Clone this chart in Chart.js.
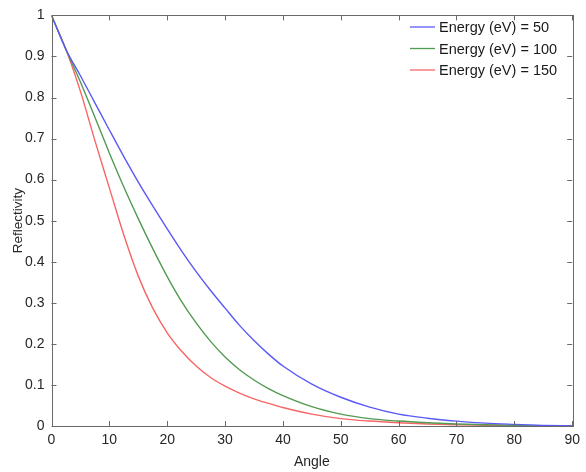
<!DOCTYPE html>
<html>
<head>
<meta charset="utf-8">
<script src="https://cdn.jsdelivr.net/npm/chart.js@4/dist/chart.umd.min.js"></script>
<style>
  html, body { margin: 0; padding: 0; background: #fff; }
  #wrap { width: 586px; height: 472px; }
</style>
</head>
<body>
<div id="wrap"><canvas id="refl"></canvas></div>
<script>
// angle grid (degrees) and reflectivity
var angle = [0, 2.5, 5, 7.5, 10, 12.5, 15, 17.5, 20, 22.5, 25, 27.5, 30, 32.5, 35, 37.5, 40, 45, 50, 55, 60, 65, 70, 75, 80, 85, 90];
var r50  = [1.0, 0.917, 0.853, 0.787, 0.721, 0.656, 0.594, 0.536, 0.48, 0.426, 0.376, 0.33, 0.287, 0.245, 0.208, 0.175, 0.146, 0.102, 0.07, 0.046, 0.029, 0.019, 0.012, 0.007, 0.004, 0.0015, 0];
var r100 = [1.0, 0.917, 0.838, 0.752, 0.665, 0.582, 0.505, 0.432, 0.364, 0.303, 0.251, 0.206, 0.168, 0.137, 0.112, 0.091, 0.074, 0.047, 0.029, 0.018, 0.012, 0.008, 0.005, 0.003, 0.0015, 0.0005, 0];
var r150 = [1.0, 0.917, 0.815, 0.695, 0.58, 0.465, 0.365, 0.287, 0.227, 0.182, 0.146, 0.118, 0.097, 0.08, 0.066, 0.055, 0.045, 0.029, 0.018, 0.012, 0.008, 0.005, 0.003, 0.002, 0.001, 0.0005, 0];
var labels = ['Energy (eV) = 50', 'Energy (eV) = 100', 'Energy (eV) = 150'];
var xTicks = [0, 10, 20, 30, 40, 50, 60, 70, 80, 90];
var yTicks = [0, 0.1, 0.2, 0.3, 0.4, 0.5, 0.6, 0.7, 0.8, 0.9, 1];

var colors = ['#5a5af7', '#529b52', '#f66666'];
var FONT = '"Liberation Sans", Arial, sans-serif';
var AXIS = '#6a6a6a';

function pts(ys) {
  return angle.map(function (a, i) { return { x: a, y: ys[i] }; });
}

// box + inward ticks on all four sides, MATLAB style
var frame = {
  id: 'frame',
  afterDraw: function (chart) {
    var ctx = chart.ctx, a = chart.chartArea;
    var sx = chart.scales.x, sy = chart.scales.y;
    ctx.save();
    ctx.strokeStyle = AXIS;
    ctx.lineWidth = 1;
    ctx.strokeRect(Math.round(a.left) + 0.5, Math.round(a.top) + 0.5,
      Math.round(a.right - a.left), Math.round(a.bottom - a.top));
    ctx.beginPath();
    xTicks.forEach(function (v) {
      var px = Math.round(sx.getPixelForValue(v)) + 0.5;
      ctx.moveTo(px, a.bottom); ctx.lineTo(px, a.bottom - 5);
      ctx.moveTo(px, a.top); ctx.lineTo(px, a.top + 5);
    });
    yTicks.forEach(function (v) {
      var py = Math.round(sy.getPixelForValue(v)) + 0.5;
      ctx.moveTo(a.left, py); ctx.lineTo(a.left + 5, py);
      ctx.moveTo(a.right, py); ctx.lineTo(a.right - 5, py);
    });
    ctx.stroke();

    // legend
    ctx.font = '14.5px ' + FONT;
    ctx.textBaseline = 'middle';
    ctx.fillStyle = '#1a1a1a';
    chart.data.datasets.forEach(function (ds, i) {
      var y = 27 + i * 21.5;
      ctx.strokeStyle = ds.borderColor;
      ctx.lineWidth = 1.3;
      ctx.beginPath();
      ctx.moveTo(410, y); ctx.lineTo(435, y);
      ctx.stroke();
      ctx.fillText(ds.label, 439, y + 1);
    });
    ctx.restore();
  }
};

new Chart(document.getElementById('refl'), {
  type: 'line',
  data: {
    datasets: [
      { label: labels[0], data: pts(r50), borderColor: colors[0] },
      { label: labels[1], data: pts(r100), borderColor: colors[1] },
      { label: labels[2], data: pts(r150), borderColor: colors[2] }
    ]
  },
  options: {
    responsive: true,
    maintainAspectRatio: false,
    animation: false,
    layout: { padding: { top: 10, right: 11, left: 0, bottom: 0 } },
    elements: {
      point: { radius: 0 },
      line: { borderWidth: 1.4, cubicInterpolationMode: 'monotone', fill: false }
    },
    plugins: { legend: { display: false }, tooltip: { enabled: false } },
    scales: {
      x: {
        type: 'linear', min: 0, max: 90,
        afterBuildTicks: function (s) { s.ticks = xTicks.map(function (v) { return { value: v }; }); },
        afterFit: function (s) { s.height = 46; },
        grid: { display: false, drawTicks: false },
        border: { display: false },
        ticks: { padding: 6, color: '#262626', font: { family: FONT, size: 14 }, maxRotation: 0,
          callback: function (v) { return String(v); } },
        title: { display: true, text: 'Angle', color: '#262626', font: { family: FONT, size: 14 }, padding: { top: 0, bottom: 1.6 } }
      },
      y: {
        type: 'linear', min: 0, max: 1,
        afterBuildTicks: function (s) { s.ticks = yTicks.map(function (v) { return { value: v }; }); },
        afterFit: function (s) { s.width = 51.5; },
        grid: { display: false, drawTicks: false },
        border: { display: false },
        ticks: { padding: 7, color: '#262626', font: { family: FONT, size: 14 },
          callback: function (v) { return String(v); } },
        title: { display: true, text: 'Reflectivity', color: '#262626', font: { family: FONT, size: 13.5 }, padding: { top: 10, bottom: 0 } }
      }
    }
  },
  plugins: [frame]
});
</script>
</body>
</html>
